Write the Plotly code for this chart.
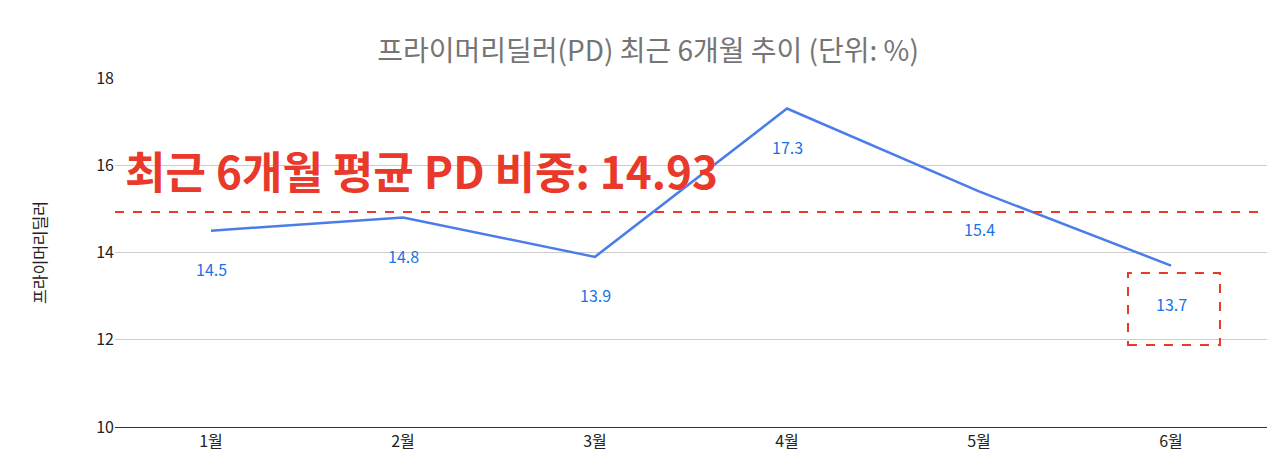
import plotly.graph_objects as go

months = ["1월", "2월", "3월", "4월", "5월", "6월"]
values = [14.5, 14.8, 13.9, 17.3, 15.4, 13.7]
avg = 14.93
title = "프라이머리딜러(PD) 최근 6개월 추이 (단위: %)"
yaxis_title = "프라이머리딜러"
avg_text = "최근 6개월 평균 PD 비중: 14.93"

F = "Noto Sans CJK KR"
fig = go.Figure()
fig.add_trace(go.Scatter(x=months, y=values, mode="lines",
                         line=dict(color="#4a7de8", width=2.5), hoverinfo="skip"))
for m, v in zip(months, values):
    fig.add_annotation(x=m, y=v, text=str(v), showarrow=False, yshift=-38,
                       font=dict(color="#1a73e8", size=16, family=F))
fig.add_hline(y=avg, line=dict(color="#e8392a", width=2, dash="dash"))
fig.add_annotation(x=-0.46, y=15.9, xref="x", yref="y", text="<b>" + avg_text + "</b>", showarrow=False,
                   xanchor="left", font=dict(color="#e8392a", size=44, family=F))
fig.add_shape(type="rect", x0=4.776, x1=5.255, y0=11.88, y1=13.53, xref="x", yref="y",
              line=dict(color="#e8392a", width=2, dash="dash"))
fig.update_layout(
    width=1280, height=471, plot_bgcolor="white", paper_bgcolor="white", showlegend=False,
    margin=dict(l=107, r=21, t=70, b=52),
    title=dict(text=title, x=0.5, y=0.93, xanchor="center", font=dict(size=28, color="#757575", family=F)),
    font=dict(family=F, color="#222"),
    xaxis=dict(range=[-0.5, 5.5], showgrid=False, showline=True, linecolor="#333", tickfont=dict(size=16)),
    yaxis=dict(range=[10, 18], tickvals=[10, 12, 14, 16, 18], gridcolor="#cccccc", zeroline=False,
               tickfont=dict(size=16), title=dict(text=yaxis_title, font=dict(size=16), standoff=45)),
)
fig.write_html("out.html")
